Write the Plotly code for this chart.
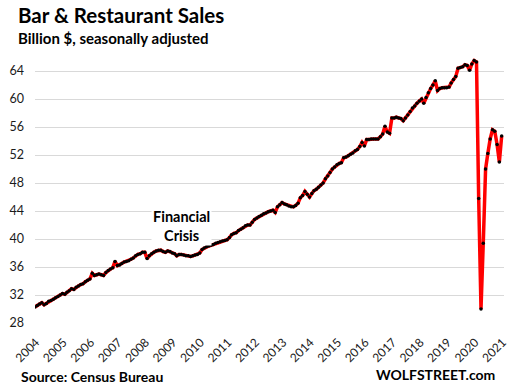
import plotly.graph_objects as go

start_year = 2004
years = list(range(2004, 2022))
tick_labels = [str(y) for y in years]

sales = [
    # 2004
    30.3, 30.5, 30.7, 30.9, 30.6, 30.8, 31.1, 31.2, 31.4, 31.6, 31.8, 32.0,
    # 2005
    32.2, 32.1, 32.4, 32.6, 32.9, 32.8, 33.1, 33.3, 33.5, 33.6, 33.9, 34.1,
    # 2006
    34.3, 35.1, 34.8, 34.9, 35.0, 34.9, 34.8, 35.2, 35.5, 35.7, 35.9, 36.8,
    # 2007
    36.2, 36.3, 36.5, 36.7, 36.8, 36.9, 37.1, 37.3, 37.6, 37.8, 37.9, 38.1,
    # 2008
    38.1, 37.2, 37.6, 37.9, 38.1, 38.3, 38.4, 38.4, 38.2, 38.1, 38.3, 38.2,
    # 2009
    38.0, 37.9, 37.6, 37.8, 37.8, 37.7, 37.6, 37.6, 37.5, 37.6, 37.7, 37.8,
    # 2010
    38.0, 38.5, 38.7, 38.9, 39.0, 39.1, 39.2, 39.4, 39.5, 39.6, 39.7, 39.8,
    # 2011
    39.9, 40.2, 40.6, 40.8, 40.9, 41.2, 41.4, 41.6, 41.9, 42.0, 42.0, 42.4,
    # 2012
    42.8, 43.0, 43.2, 43.4, 43.6, 43.7, 43.9, 44.0, 44.1, 43.8, 44.6, 44.9,
    # 2013
    45.2, 45.0, 44.9, 44.7, 44.6, 44.6, 44.8, 45.1, 45.9, 46.2, 46.8, 46.4,
    # 2014
    46.0, 46.5, 46.9, 47.1, 47.4, 47.7, 48.0, 48.6, 49.0, 49.5, 50.0, 50.3,
    # 2015
    50.6, 50.8, 50.9, 51.6, 51.7, 51.9, 52.1, 52.3, 52.6, 52.8, 53.2, 53.8,
    # 2016
    53.3, 54.2, 54.2, 54.3, 54.3, 54.3, 54.3, 54.6, 55.0, 56.1, 55.3, 55.1,
    # 2017
    57.3, 57.3, 57.4, 57.3, 57.2, 56.9, 57.3, 57.7, 58.2, 58.7, 59.0, 59.4,
    # 2018
    59.7, 60.0, 59.4, 60.2, 60.9, 61.5, 62.0, 62.6, 61.2, 61.5, 61.6, 61.6,
    # 2019
    61.6, 61.7, 62.3, 62.8, 63.2, 64.4, 64.5, 64.6, 64.9, 64.8, 64.1, 65.0,
    # 2020
    65.5, 65.3, 45.8, 30.0, 39.4, 50.0, 52.2, 54.3, 55.6, 55.4, 53.5, 51.0,
    # 2021
    54.7,
]

dates = [f"{start_year + i // 12}-{i % 12 + 1:02d}-01" for i in range(len(sales))]
tick_vals = [f"{y}-01-01" for y in years]
y_ticks = [28, 32, 36, 40, 44, 48, 52, 56, 60, 64]

FONT = "Lato"
TXT = "#1a1a1a"

# plot area in pixels
L, R, T, B = 35, 6, 57, 68
PW = 510 - L - R
PH = 391 - T - B


def px(x):
    return (x - L) / PW


def py(y):
    return (391 - B - y) / PH


fig = go.Figure()
fig.add_trace(go.Scatter(
    x=dates, y=sales, mode="lines+markers",
    line=dict(color="#ff0000", width=3.5),
    marker=dict(color="#000000", size=3.5),
    hoverinfo="skip", showlegend=False,
))

fig.update_layout(
    width=510, height=391,
    margin=dict(l=L, r=R, t=T, b=B, autoexpand=False),
    paper_bgcolor="white", plot_bgcolor="white",
    font=dict(family=FONT, color=TXT, size=12),
    xaxis=dict(
        type="date", automargin=False,
        range=["2004-01-01", "2021-02-01"],
        tickvals=tick_vals, ticktext=tick_labels,
        tickangle=-45, showgrid=False, zeroline=False,
        showline=False, ticks="",
        ticklabelstandoff=9, ticklabelshift=1,
        ticklabeloverflow="allow",
        tickfont=dict(size=12, family=FONT, color=TXT),
    ),
    yaxis=dict(
        range=[28, 66], tickvals=y_ticks, automargin=False,
        showgrid=True, gridcolor="#d9d9d9", gridwidth=1,
        zeroline=False, showline=False, ticks="",
        ticklabelstandoff=10,
        tickfont=dict(size=12.5, family=FONT, color=TXT),
    ),
    annotations=[
        dict(text="<b>Bar & Restaurant Sales</b>", xref="paper", yref="paper",
             x=px(16), y=py(14.5), xanchor="left", yanchor="middle",
             showarrow=False, font=dict(size=20.5, family=FONT, color="#000")),
        dict(text="<b>Billion $, seasonally adjusted</b>", xref="paper", yref="paper",
             x=px(16), y=py(38), xanchor="left", yanchor="middle",
             showarrow=False, font=dict(size=15, family=FONT, color="#000")),
        dict(text="<b>Source: Census Bureau</b>", xref="paper", yref="paper",
             x=px(19), y=py(376), xanchor="left", yanchor="middle",
             showarrow=False, font=dict(size=14, family=FONT, color="#000")),
        dict(text="<b>WOLFSTREET.com</b>", xref="paper", yref="paper",
             x=px(497), y=py(374.5), xanchor="right", yanchor="middle",
             showarrow=False, font=dict(size=14, family=FONT, color="#000")),
        dict(text="<b>Financial<br>Crisis</b>", xref="paper", yref="paper",
             x=px(181), y=py(226), xanchor="center", yanchor="middle",
             showarrow=False, bgcolor="white", align="center",
             font=dict(size=14.5, family=FONT, color="#000")),
    ],
)

fig.write_html(
    "out.html",
    config={"displayModeBar": False, "staticPlot": True},
    post_script="document.body.style.margin='0';document.body.style.overflow='hidden';",
)
